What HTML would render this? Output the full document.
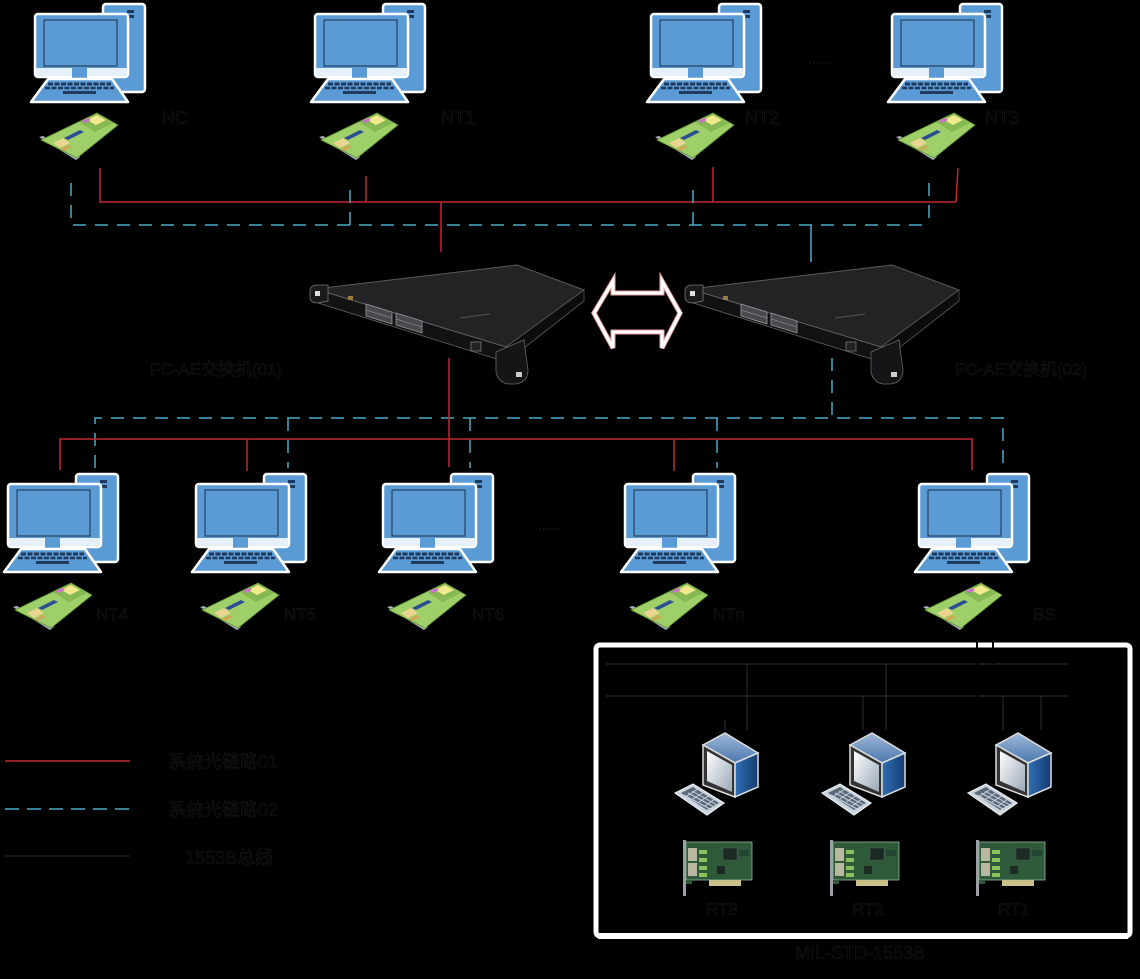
<!DOCTYPE html>
<html><head><meta charset="utf-8">
<style>
html,body{margin:0;padding:0;background:#000;}
body{width:1140px;height:979px;overflow:hidden;}
svg{display:block;}
.t{font-family:"Liberation Sans","Noto Sans CJK SC",sans-serif;fill:#000;stroke:#1c1c1c;stroke-width:0.5;}
</style></head><body>
<svg width="1140" height="979" viewBox="0 0 1140 979" xmlns="http://www.w3.org/2000/svg">
<defs>
  <symbol id="pc" viewBox="0 0 115 100" width="115" height="100" overflow="visible">
    <rect x="72" y="1" width="42" height="88" rx="3" fill="#5b9bd5" stroke="#fff" stroke-width="2.5"/>
    <rect x="96" y="7" width="7" height="3" fill="#1f3a5c"/>
    <rect x="96" y="12" width="7" height="3" fill="#1f3a5c"/>
    <rect x="4" y="11" width="93" height="63" rx="3" fill="#5b9bd5" stroke="#fff" stroke-width="2.5"/>
    <rect x="13" y="17" width="73" height="46" fill="#5b9bd5" stroke="#1c2f48" stroke-width="1"/>
    <rect x="5" y="65" width="91" height="8" fill="#e6f0fa"/>
    <rect x="41" y="65" width="15" height="11" fill="#5b9bd5"/>
    <polygon points="17,76 81,76 97,99 0,99" fill="#5b9bd5" stroke="#fff" stroke-width="2.5" stroke-linejoin="round"/>
    <line x1="17" y1="81" x2="80" y2="81" stroke="#1f3a5c" stroke-width="3" stroke-dasharray="5,1.5"/>
    <line x1="14" y1="85" x2="83" y2="85" stroke="#1f3a5c" stroke-width="2.5" stroke-dasharray="5,1.5"/>
    <rect x="32" y="88" width="33" height="3" fill="#1f3a5c"/>
  </symbol>
  <symbol id="nic" viewBox="0 0 80 48" width="80" height="48" overflow="visible">
    <polygon points="0,24 4,23 41,44 37,47" fill="#a9b4c0"/>
    <polygon points="2,27 58,0 79,12 38,45" fill="#9fcf68" stroke="#5f8f33" stroke-width="0.8"/>
    <polygon points="40,9 58,1 74,10 56,19" fill="#86b853"/>
    <polygon points="48,7 58,2 67,7 57,12" fill="#f0ea8c"/>
    <polygon points="43,8 49,5 52,7 46,10" fill="#cf6fcf"/>
    <polygon points="25,25 41,17 45,19 29,27" fill="#2c4f93"/>
    <polygon points="14,30 24,25 31,30 21,35" fill="#e9d58f"/>
    <polygon points="22,36 30,32 33,34 25,38" fill="#cfa85a"/>
  </symbol>
  <symbol id="rtpc" viewBox="0 0 90 85" width="90" height="85" overflow="visible">
    <linearGradient id="rg" x1="0" y1="0" x2="1" y2="0"><stop offset="0" stop-color="#2f6fb5"/><stop offset="1" stop-color="#163c70"/></linearGradient>
    <linearGradient id="sg" x1="0" y1="0" x2="1" y2="1"><stop offset="0" stop-color="#ffffff"/><stop offset="1" stop-color="#9aa8b8"/></linearGradient>
    <linearGradient id="tg" x1="0" y1="0" x2="0" y2="1"><stop offset="0" stop-color="#9fb8d6"/><stop offset="1" stop-color="#4b78b0"/></linearGradient>
    <polygon points="28,12 50,0 83,20 60,30" fill="url(#tg)" stroke="#ddd" stroke-width="1.5"/>
    <polygon points="28,12 60,30 60,64 28,52" fill="#333" stroke="#ddd" stroke-width="1.5"/>
    <polygon points="32,18 57,32 57,59 32,48" fill="url(#sg)"/>
    <polygon points="60,30 83,20 83,54 60,64" fill="url(#rg)" stroke="#ddd" stroke-width="1.5"/>
    <polygon points="0,60 18,51 49,70 32,82" fill="#c9d3de" stroke="#eee" stroke-width="1.2"/>
    <polygon points="6,60 18,54 44,70 32,77" fill="#5a6878"/>
    <path d="M9,62 L35,76 M13,60 L39,74 M17,58 L42,72 M12,63 L23,56 M18,66 L29,59 M24,69 L35,62 M30,73 L40,66" stroke="#c9d3de" stroke-width="1"/>
  </symbol>
  <symbol id="rtcard" viewBox="0 0 70 58" width="70" height="58" overflow="visible">
    <rect x="0" y="0" width="3" height="56" fill="#9aa0a6"/>
    <rect x="3" y="2" width="66" height="38" fill="#2f5a3a" stroke="#8fb79a" stroke-width="0.8"/>
    <rect x="5" y="8" width="9" height="13" fill="#b8b8a0"/>
    <rect x="5" y="23" width="9" height="13" fill="#b8b8a0"/>
    <rect x="16" y="10" width="8" height="4" fill="#8fc060"/>
    <rect x="16" y="18" width="8" height="4" fill="#8fc060"/>
    <rect x="16" y="26" width="8" height="4" fill="#8fc060"/>
    <rect x="16" y="33" width="8" height="4" fill="#8fc060"/>
    <rect x="40" y="8" width="14" height="12" fill="#1c2a24" stroke="#556" stroke-width="0.5"/>
    <rect x="34" y="26" width="8" height="8" fill="#1c2a24"/>
    <rect x="56" y="10" width="10" height="6" fill="#243"/>
    <rect x="26" y="40" width="32" height="6" fill="#c9c08a"/>
    <rect x="3" y="40" width="6" height="4" fill="#2f5a3a"/>
  </symbol>
</defs>

<!-- top computers -->
<use href="#pc" x="31" y="3"/>
<use href="#pc" x="311" y="3"/>
<use href="#pc" x="647" y="3"/>
<use href="#pc" x="888" y="3"/>
<use href="#nic" x="39" y="113"/>
<use href="#nic" x="319" y="113"/>
<use href="#nic" x="655" y="113"/>
<use href="#nic" x="896" y="113"/>
<text class="t" x="162" y="124" font-size="18">NC</text>
<text class="t" x="441" y="124" font-size="18">NT1</text>
<text class="t" x="745" y="124" font-size="18">NT2</text>
<text class="t" x="985" y="124" font-size="18">NT3</text>
<text class="t" x="808" y="64" font-size="14">......</text>

<!-- top links -->
<g fill="none" stroke="#c0282d" stroke-width="1.5">
  <polyline points="100,168 100,202 956,202"/>
  <line x1="366" y1="176" x2="366" y2="202"/>
  <line x1="713" y1="167" x2="713" y2="202"/>
  <line x1="958" y1="168" x2="956" y2="202"/>
  <line x1="441" y1="202" x2="441" y2="252"/>
</g>
<g fill="none" stroke="#4bacc6" stroke-width="1.5" stroke-dasharray="13,9">
  <polyline points="71,183 71,225 929,225"/>
  <line x1="350" y1="190" x2="350" y2="225"/>
  <line x1="693" y1="190" x2="693" y2="225"/>
  <line x1="929" y1="183" x2="929" y2="225"/>
  <line x1="811" y1="225" x2="811" y2="262" stroke-dasharray="none"/>
</g>

<!-- switches -->
<g id="sw1">
  <polygon points="315,289 517,265 584,290 506,347" fill="#232326" stroke="#5a5a5e" stroke-width="1"/>
  <polygon points="315,289 506,347 506,362 315,302" fill="#121214" stroke="#666" stroke-width="0.8"/>
  <polygon points="506,347 584,290 584,301 506,362" fill="#0c0c0e" stroke="#555" stroke-width="0.8"/>
  <polygon points="366,304 392,312 392,324 366,316" fill="#4a4a4e" stroke="#9a9a9a" stroke-width="0.8"/>
  <polygon points="396,313 422,321 422,333 396,325" fill="#4a4a4e" stroke="#9a9a9a" stroke-width="0.8"/>
  <line x1="366" y1="310" x2="392" y2="318" stroke="#999" stroke-width="0.6"/>
  <line x1="396" y1="319" x2="422" y2="327" stroke="#999" stroke-width="0.6"/>
  <rect x="348" y="296" width="5" height="4" fill="#a07a3a"/>
  <rect x="471" y="342" width="10" height="9" fill="#222" stroke="#777" stroke-width="0.8"/>
  <path d="M310,291 q0,-6 8,-6 l10,0 l0,16 l-10,2 q-8,0 -8,-6z" fill="#1a1a1a" stroke="#777" stroke-width="0.8"/>
  <rect x="315" y="291" width="5" height="5" fill="#ddd"/>
  <path d="M496,352 l28,-12 l4,30 q0,12 -12,14 l-8,0 q-10,-2 -12,-12z" fill="#151517" stroke="#666" stroke-width="0.8"/>
  <rect x="516" y="372" width="6" height="5" fill="#ccc"/>
  <line x1="460" y1="318" x2="490" y2="314" stroke="#555" stroke-width="1"/>
</g>
<use href="#sw1" x="375" y="0"/>

<!-- double arrow -->
<polygon points="594,313 613,281 613,293 662,293 662,281 680,313 662,348 662,332 613,332 613,348" fill="none" stroke="#e7a2a2" stroke-width="5" stroke-linejoin="miter"/>
<polygon points="594,313 613,281 613,293 662,293 662,281 680,313 662,348 662,332 613,332 613,348" fill="none" stroke="#fff" stroke-width="3" stroke-linejoin="miter"/>

<text class="t" x="150" y="375" font-size="17">FC-AE交换机(01)</text>
<text class="t" x="955" y="375" font-size="17">FC-AE交换机(02)</text>

<!-- lower links -->
<g fill="none" stroke="#4bacc6" stroke-width="1.5" stroke-dasharray="13,9">
  <polyline points="95,468 95,418 1003,418 1003,468"/>
  <line x1="288" y1="418" x2="288" y2="468"/>
  <line x1="470" y1="418" x2="470" y2="468"/>
  <line x1="717" y1="418" x2="717" y2="468"/>
  <line x1="832" y1="358" x2="832" y2="418"/>
</g>
<g fill="none" stroke="#c0282d" stroke-width="1.5">
  <polyline points="60,470 60,439 972,439 972,470"/>
  <line x1="247" y1="439" x2="247" y2="471"/>
  <line x1="674" y1="439" x2="674" y2="471"/>
  <line x1="449" y1="358" x2="449" y2="467"/>
</g>

<!-- lower computers -->
<use href="#pc" x="4" y="473"/>
<use href="#pc" x="192" y="473"/>
<use href="#pc" x="379" y="473"/>
<use href="#pc" x="621" y="473"/>
<use href="#pc" x="915" y="473"/>
<use href="#nic" x="13" y="583"/>
<use href="#nic" x="200" y="583"/>
<use href="#nic" x="387" y="583"/>
<use href="#nic" x="629" y="583"/>
<use href="#nic" x="923" y="583"/>
<text class="t" x="96" y="620" font-size="17">NT4</text>
<text class="t" x="284" y="620" font-size="17">NT5</text>
<text class="t" x="472" y="620" font-size="17">NT6</text>
<text class="t" x="713" y="620" font-size="17">NTn</text>
<text class="t" x="1033" y="620" font-size="17">BS</text>
<text class="t" x="538" y="530" font-size="14">......</text>

<!-- 1553B box -->
<rect x="596" y="645" width="534" height="291" rx="4" fill="none" stroke="#fff" stroke-width="5"/>
<line x1="598" y1="936" x2="1128" y2="936" stroke="#fff" stroke-width="6"/>
<g stroke="#262626" stroke-width="1.2" fill="none">
  <line x1="606" y1="664" x2="1068" y2="664"/>
  <line x1="606" y1="696" x2="1068" y2="696"/>
  <line x1="747" y1="664" x2="747" y2="730"/>
  <line x1="725" y1="720" x2="725" y2="730"/>
  <line x1="863" y1="696" x2="863" y2="730"/>
  <line x1="886" y1="664" x2="886" y2="730"/>
  <line x1="1003" y1="696" x2="1003" y2="730"/>
  <line x1="1041" y1="696" x2="1041" y2="730"/>
</g>
<line x1="977" y1="622" x2="977" y2="697" stroke="#000" stroke-width="2"/>
<line x1="993" y1="622" x2="993" y2="664" stroke="#000" stroke-width="2"/>

<use href="#rtpc" x="675" y="733"/>
<use href="#rtpc" x="822" y="733"/>
<use href="#rtpc" x="968" y="733"/>
<use href="#rtcard" x="683" y="840"/>
<use href="#rtcard" x="830" y="840"/>
<use href="#rtcard" x="976" y="840"/>
<text class="t" x="706" y="915" font-size="17">RT3</text>
<text class="t" x="852" y="915" font-size="17">RT2</text>
<text class="t" x="998" y="915" font-size="17">RT1</text>
<text class="t" x="795" y="959" font-size="18">MIL-STD-1553B</text>

<!-- legend -->
<line x1="5" y1="761" x2="130" y2="761" stroke="#c0282d" stroke-width="1.5"/>
<line x1="5" y1="809" x2="130" y2="809" stroke="#4bacc6" stroke-width="1.5" stroke-dasharray="14,8"/>
<line x1="5" y1="856" x2="130" y2="856" stroke="#1a1a1a" stroke-width="1.5"/>
<text class="t" x="168" y="768" font-size="18">系统光链路01</text>
<text class="t" x="168" y="816" font-size="18">系统光链路02</text>
<text class="t" x="185" y="864" font-size="18">1553B总线</text>
</svg>
</body></html>
